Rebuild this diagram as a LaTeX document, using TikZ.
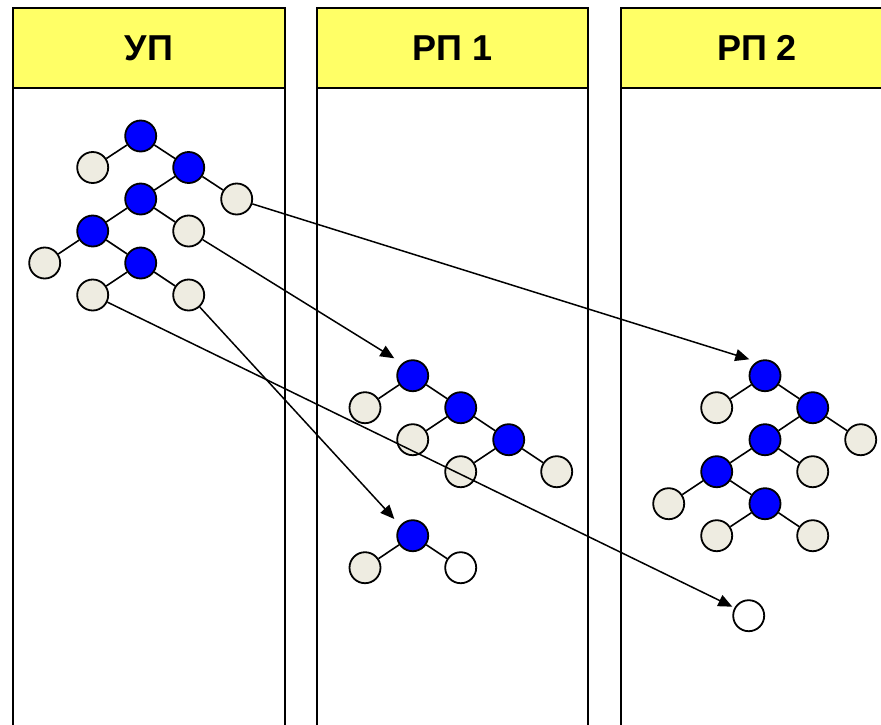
\documentclass[tikz,border=0pt]{standalone}
\usepackage{fontspec}
\setmainfont{Liberation Sans}
\usetikzlibrary{arrows.meta}
\definecolor{hdr}{RGB}{255,255,102}
\definecolor{lgray}{RGB}{238,236,225}
\definecolor{nblue}{RGB}{0,0,255}
\begin{document}
\begin{tikzpicture}[x=1pt,y=-1pt,
  hdrbox/.style={draw=black,line width=2pt,fill=hdr},
  colline/.style={draw=black,line width=2pt},
  title/.style={font=\bfseries\fontsize{36}{40}\selectfont,inner sep=0pt},
  tn/.style={circle,draw=black,line width=1.8pt,minimum size=31pt,inner sep=0pt},
  bn/.style={tn,fill=nblue},
  gn/.style={tn,fill=lgray},
  wn/.style={tn,fill=white},
  tl/.style={line width=1.6pt},
  arr/.style={line width=1.5pt,-{Triangle[length=14pt,width=12pt]}}]
\useasboundingbox (0,0) rectangle (881,724);
\fill[white] (0,0) rectangle (881,724);
% columns
\draw[hdrbox] (13,8) rectangle (285,88);
\draw[colline] (13,730) -- (13,8) -- (285,8) -- (285,730);
\draw[hdrbox] (317,8) rectangle (588,88);
\draw[colline] (317,730) -- (317,8) -- (588,8) -- (588,730);
\draw[hdrbox] (621,8) rectangle (893,88);
\draw[colline] (621,730) -- (621,8) -- (893,8) -- (893,730);
\node[title] (t1) at (149,48) {УП};
\node[title] (t2) at (452.5,48) {РП 1};
\node[title] (t3) at (757,48) {РП 2};
% tree in column 1
\node[bn] (a1) at (140.7,136) {};
\node[gn] (a2) at (92.7,167.5) {};
\node[bn] (a3) at (188.7,167.5) {};
\node[bn] (a4) at (140.7,199) {};
\node[gn] (a5) at (236.7,199) {};
\node[bn] (a6) at (92.7,231) {};
\node[gn] (a7) at (188.7,231) {};
\node[gn] (a8) at (44.7,263) {};
\node[bn] (a9) at (140.7,263) {};
\node[gn] (a10) at (92.7,295) {};
\node[gn] (a11) at (188.7,295) {};
\draw[tl] (a1) -- (a2) (a1) -- (a3) (a3) -- (a4) (a3) -- (a5) (a4) -- (a6)
  (a4) -- (a7) (a6) -- (a8) (a6) -- (a9) (a9) -- (a10) (a9) -- (a11);
% trees in column 2
\node[bn] (b1) at (412.7,375.7) {};
\node[gn] (b2) at (365,407.7) {};
\node[bn] (b3) at (460.7,407.7) {};
\node[gn] (b4) at (412.7,439.7) {};
\node[bn] (b5) at (508.7,439.7) {};
\node[gn] (b6) at (460.7,471.7) {};
\node[gn] (b7) at (556.7,471.7) {};
\draw[tl] (b1) -- (b2) (b1) -- (b3) (b3) -- (b4) (b3) -- (b5) (b5) -- (b6) (b5) -- (b7);
\node[bn] (c1) at (412.7,535.7) {};
\node[gn] (c2) at (365,567.7) {};
\node[wn] (c3) at (460.7,567.7) {};
\draw[tl] (c1) -- (c2) (c1) -- (c3);
% tree in column 3
\node[bn] (d1) at (765,375.7) {};
\node[gn] (d2) at (716.7,407.7) {};
\node[bn] (d3) at (812.7,407.7) {};
\node[bn] (d4) at (765,439.7) {};
\node[gn] (d5) at (860.7,439.7) {};
\node[bn] (d6) at (716.7,471.7) {};
\node[gn] (d7) at (812.7,471.7) {};
\node[gn] (d8) at (668.7,503.7) {};
\node[bn] (d9) at (765,503.7) {};
\node[gn] (d10) at (716.7,535.7) {};
\node[gn] (d11) at (812.7,535.7) {};
\draw[tl] (d1) -- (d2) (d1) -- (d3) (d3) -- (d4) (d3) -- (d5) (d4) -- (d6)
  (d4) -- (d7) (d6) -- (d8) (d6) -- (d9) (d9) -- (d10) (d9) -- (d11);
\node[wn] (e1) at (748.7,615.7) {};
% arrows
\coordinate (tipb) at (394.3,358.3);
\coordinate (tipc) at (394.3,519);
\coordinate (tipd) at (749.3,359.3);
\coordinate (tipe) at (732.3,606.7);
\draw[arr] (a5) -- (tipd);
\draw[arr] (a7) -- (tipb);
\draw[arr] (a10) -- (tipe);
\draw[arr] (a11) -- (tipc);
\end{tikzpicture}
\end{document}
